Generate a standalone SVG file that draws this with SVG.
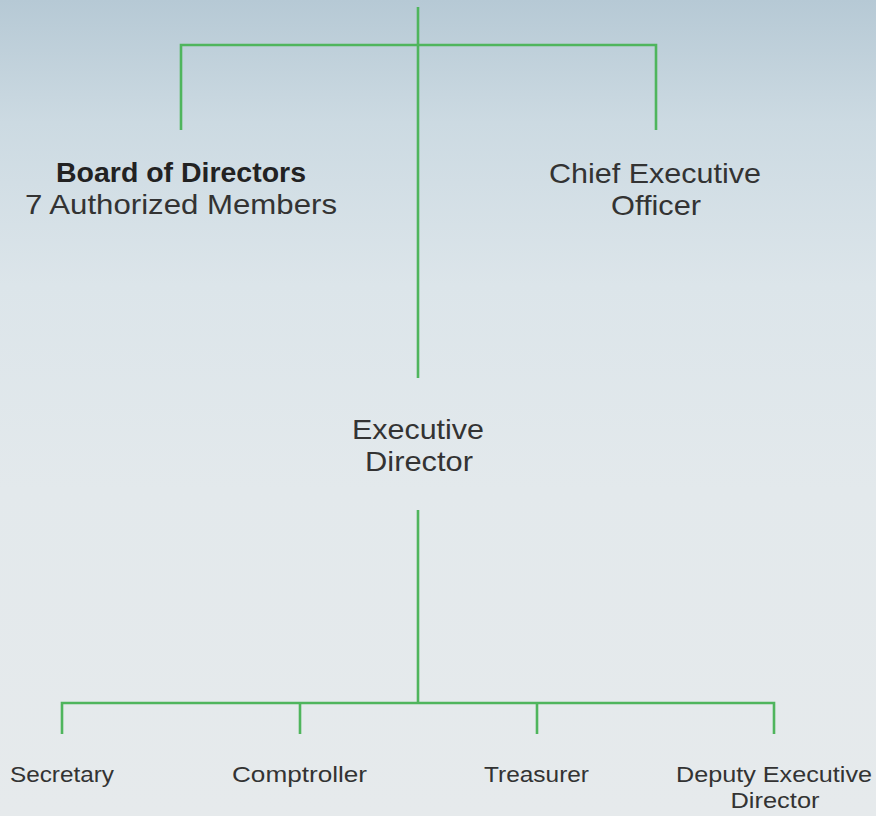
<svg xmlns="http://www.w3.org/2000/svg" width="876" height="816" viewBox="0 0 876 816">
  <defs>
    <linearGradient id="bg" x1="0" y1="0" x2="0" y2="1">
      <stop offset="0" stop-color="#b6c9d5"/>
      <stop offset="0.15" stop-color="#ccdae2"/>
      <stop offset="0.35" stop-color="#dce5ea"/>
      <stop offset="0.6" stop-color="#e3e9ec"/>
      <stop offset="1" stop-color="#e6eaec"/>
    </linearGradient>
    <style>
      .ln { stroke: #4fb55d; stroke-width: 2.6; fill: none; stroke-linecap: butt; }
      .t { font-family: "Liberation Sans", Arial, sans-serif; fill: #333333; text-anchor: middle; }
      .big { font-size: 28px; }
      .b { font-weight: bold; fill: #222222; }
      .sm { font-size: 22px; }
    </style>
  </defs>
  <rect x="0" y="0" width="876" height="816" fill="url(#bg)"/>

  <g id="connectors">
    <path class="ln" d="M418 7 V378"/>
    <path class="ln" d="M181 130 V45 H656 V130"/>
    <path class="ln" d="M418 510 V703"/>
    <path class="ln" d="M62 734 V703 H774 V734"/>
    <path class="ln" d="M300 703 V734"/>
    <path class="ln" d="M537 703 V734"/>
  </g>

  <g id="board">
    <text class="t big b" x="181" y="182" textLength="250" lengthAdjust="spacingAndGlyphs">Board of Directors</text>
    <text class="t big" x="181" y="214" textLength="312" lengthAdjust="spacingAndGlyphs">7 Authorized Members</text>
  </g>

  <g id="ceo">
    <text class="t big" x="655" y="183" textLength="212" lengthAdjust="spacingAndGlyphs">Chief Executive</text>
    <text class="t big" x="656" y="215" textLength="90" lengthAdjust="spacingAndGlyphs">Officer</text>
  </g>

  <g id="executive-director">
    <text class="t big" x="418" y="439" textLength="132" lengthAdjust="spacingAndGlyphs">Executive</text>
    <text class="t big" x="419" y="471" textLength="108" lengthAdjust="spacingAndGlyphs">Director</text>
  </g>

  <g id="secretary">
    <text class="t sm" x="62" y="782" textLength="104" lengthAdjust="spacingAndGlyphs">Secretary</text>
  </g>

  <g id="comptroller">
    <text class="t sm" x="299.5" y="782" textLength="135" lengthAdjust="spacingAndGlyphs">Comptroller</text>
  </g>

  <g id="treasurer">
    <text class="t sm" x="536.5" y="782" textLength="105" lengthAdjust="spacingAndGlyphs">Treasurer</text>
  </g>

  <g id="deputy">
    <text class="t sm" x="774" y="782" textLength="196" lengthAdjust="spacingAndGlyphs">Deputy Executive</text>
    <text class="t sm" x="775" y="808" textLength="89" lengthAdjust="spacingAndGlyphs">Director</text>
  </g>
</svg>
